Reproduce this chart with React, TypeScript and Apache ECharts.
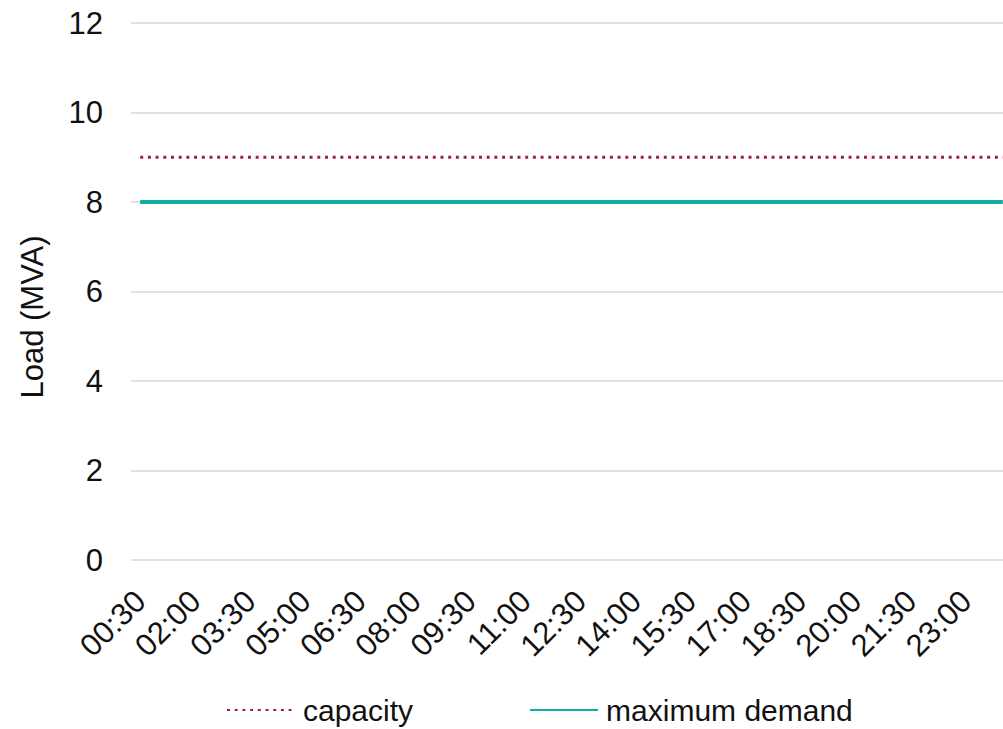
import React, { useEffect, useRef } from "react";
import * as echarts from "echarts";

const categories: string[] = [
  "00:30", "01:00", "01:30", "02:00", "02:30", "03:00", "03:30", "04:00",
  "04:30", "05:00", "05:30", "06:00", "06:30", "07:00", "07:30", "08:00",
  "08:30", "09:00", "09:30", "10:00", "10:30", "11:00", "11:30", "12:00",
  "12:30", "13:00", "13:30", "14:00", "14:30", "15:00", "15:30", "16:00",
  "16:30", "17:00", "17:30", "18:00", "18:30", "19:00", "19:30", "20:00",
  "20:30", "21:00", "21:30", "22:00", "22:30", "23:00", "23:30", "00:00",
];

const capacity: number[] = [
  9, 9, 9, 9, 9, 9, 9, 9, 9, 9, 9, 9, 9, 9, 9, 9,
  9, 9, 9, 9, 9, 9, 9, 9, 9, 9, 9, 9, 9, 9, 9, 9,
  9, 9, 9, 9, 9, 9, 9, 9, 9, 9, 9, 9, 9, 9, 9, 9,
];

const maximumDemand: number[] = [
  8, 8, 8, 8, 8, 8, 8, 8, 8, 8, 8, 8, 8, 8, 8, 8,
  8, 8, 8, 8, 8, 8, 8, 8, 8, 8, 8, 8, 8, 8, 8, 8,
  8, 8, 8, 8, 8, 8, 8, 8, 8, 8, 8, 8, 8, 8, 8, 8,
];

const seriesNames = ["capacity", "maximum demand"];
const yAxisTitle = "Load (MVA)";

const FONT = "'Liberation Sans', Arial, sans-serif";

export default function App() {
  const ref = useRef<HTMLDivElement>(null);

  useEffect(() => {
    if (!ref.current) return;
    const chart = echarts.init(ref.current, null, { renderer: "svg" });
    chart.setOption({
      animation: false,
      backgroundColor: "#ffffff",
      textStyle: { fontFamily: FONT },
      grid: { left: 131, top: 23, width: 881, height: 537, containLabel: false },
      xAxis: {
        type: "category",
        data: categories,
        boundaryGap: true,
        axisLine: { show: false },
        axisTick: { show: false },
        axisLabel: {
          interval: 2,
          rotate: 45,
          fontSize: 31,
          color: "#111",
          fontFamily: FONT,
          margin: 36,
        },
        splitLine: { show: false },
      },
      yAxis: {
        type: "value",
        min: 0,
        max: 12,
        interval: 2,
        axisLine: { show: false },
        axisTick: { show: false },
        axisLabel: { fontSize: 31, color: "#111", fontFamily: FONT, margin: 28 },
        splitLine: { lineStyle: { color: "#d9d9d9", width: 1.5 } },
      },
      graphic: [
        {
          type: "text",
          x: 32,
          y: 317,
          rotation: Math.PI / 2,
          style: {
            text: yAxisTitle,
            fontSize: 31,
            fontFamily: FONT,
            fill: "#111",
            align: "center",
            verticalAlign: "middle",
          },
        },
      ],
      legend: {
        left: 221,
        top: 690,
        itemWidth: 68,
        itemHeight: 30,
        itemGap: 116,
        itemStyle: { opacity: 0 },
        textStyle: { fontSize: 30, color: "#111", fontFamily: FONT, padding: [0, 0, 0, 3] },
        data: seriesNames,
      },
      series: [
        {
          name: seriesNames[0],
          type: "line",
          data: capacity,
          symbol: "none",
          color: "#a32035",
          lineStyle: { color: "#a32035", width: 3, type: [3, 4.7] },
        },
        {
          name: seriesNames[1],
          type: "line",
          data: maximumDemand,
          symbol: "none",
          color: "#0fafa5",
          lineStyle: { color: "#0fafa5", width: 3.8 },
        },
      ],
    });
    return () => chart.dispose();
  }, []);

  return (
    <div
      ref={ref}
      style={{ position: "fixed", left: 0, top: 0, width: 1020, height: 729 }}
    />
  );
}
